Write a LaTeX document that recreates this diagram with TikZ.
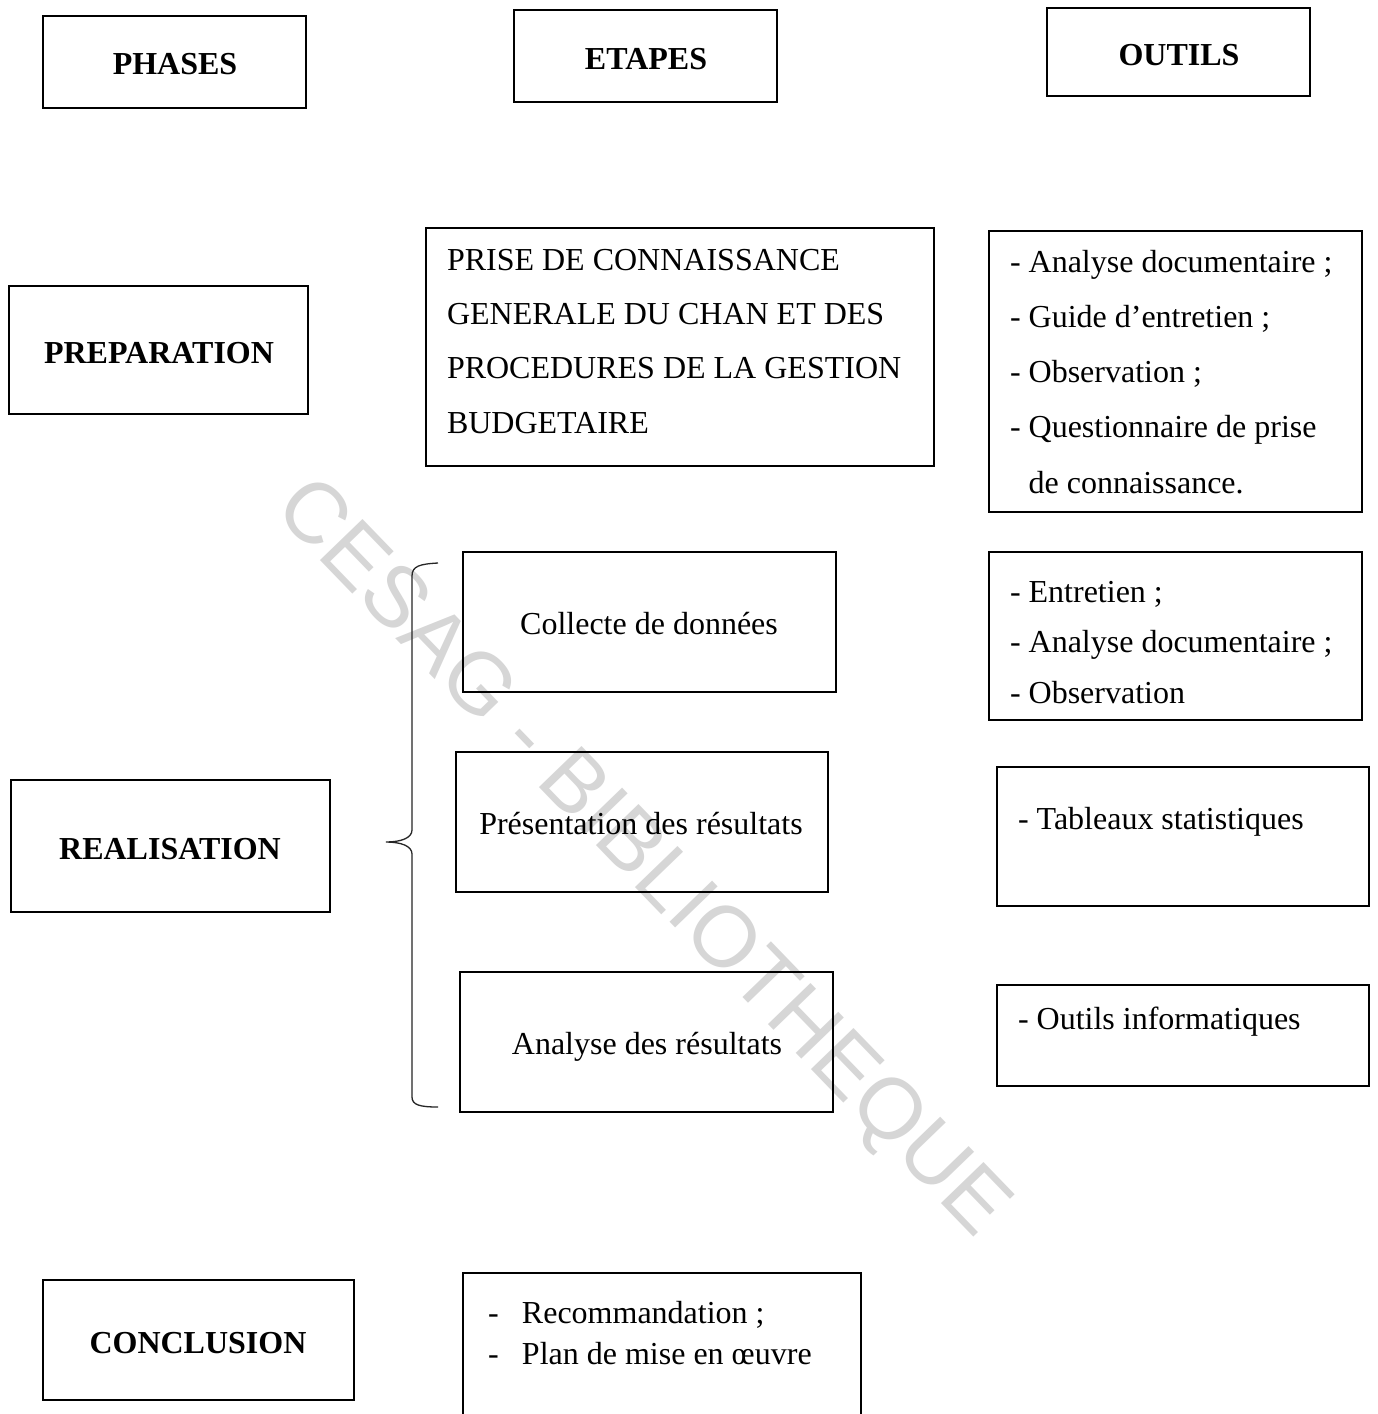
\documentclass[tikz,border=0pt]{standalone}
\usepackage{fontspec}
\setmainfont{Liberation Serif}
\newfontfamily\wmfont{Liberation Sans}
\newcommand\stacklines[2]{{\fontsize{32}{#1}\selectfont\begin{tabular}[t]{@{}l@{}}#2\end{tabular}}}
\begin{document}
\begin{tikzpicture}[x=1pt,y=-1pt,
  frame/.style={draw, line width=2.6pt, inner sep=0pt, outer sep=0pt},
  lbl/.style={inner sep=0pt, outer sep=0pt, font=\fontsize{32}{38}\selectfont},
  head/.style={inner sep=0pt, outer sep=0pt, font=\fontsize{32}{38}\selectfont\bfseries},
  bracepath/.style={line width=1.3pt, draw=black!85}
  ]
\clip (0,0) rectangle (1378,1414);
\fill[white] (0,0) rectangle (1378,1414);

% watermark
\node[rotate=-46, inner sep=0pt, text=black!16, font=\wmfont\fontsize{86}{95}\selectfont] (wm) at (640,860) {CESAG - BIBLIOTHEQUE};

% headers
\node[frame, minimum width=263pt, minimum height=92pt] (phasesbox) at (174.5,62) {};
\node[head, anchor=base] (phases) at (175,74) {PHASES};
\node[frame, minimum width=263pt, minimum height=92pt] (etapesbox) at (645.5,56) {};
\node[head, anchor=base] (etapes) at (646,69) {ETAPES};
\node[frame, minimum width=263pt, minimum height=88pt] (outilsbox) at (1178.5,52) {};
\node[head, anchor=base] (outils) at (1179,65) {OUTILS};

% preparation
\node[frame, minimum width=299pt, minimum height=128pt] (prepbox) at (158.5,350) {};
\node[head, anchor=base] (prep) at (159,363) {PREPARATION};
\node[frame, minimum width=508pt, minimum height=238pt] (prisebox) at (680,347) {};
\node[lbl, anchor=base west] (prise) at (447,270) {\stacklines{54.4}{PRISE DE CONNAISSANCE\\GENERALE DU CHAN ET DES\\PROCEDURES DE LA GESTION\\BUDGETAIRE}};
\node[frame, minimum width=373pt, minimum height=281pt] (out1box) at (1175.5,371.5) {};
\node[lbl, anchor=base west] (out1) at (1010,272) {\stacklines{55.25}{- Analyse documentaire ;\\- Guide d’entretien ;\\- Observation ;\\- Questionnaire de prise\\\hphantom{- }de connaissance.}};

% realisation
\node[frame, minimum width=319pt, minimum height=132pt] (realbox) at (170.5,846) {};
\node[head, anchor=base] (real) at (170,859) {REALISATION};

\node[frame, minimum width=373pt, minimum height=140pt] (collbox) at (649.5,622) {};
\node[lbl, anchor=base] (coll) at (649,634) {Collecte de données};
\node[frame, minimum width=373pt, minimum height=168pt] (out2box) at (1175.5,636) {};
\node[lbl, anchor=base west] (out2) at (1010,602) {\stacklines{50.5}{- Entretien ;\\- Analyse documentaire ;\\- Observation}};

\node[frame, minimum width=372pt, minimum height=140pt] (presbox) at (642,822) {};
\node[lbl, anchor=base] (pres) at (641,834) {Présentation des résultats};
\node[frame, minimum width=372pt, minimum height=139pt] (tabbox) at (1183,836.5) {};
\node[lbl, anchor=base west] (tab) at (1018,829) {- Tableaux statistiques};

\node[frame, minimum width=373pt, minimum height=140pt] (anabox) at (646.5,1042) {};
\node[lbl, anchor=base] (ana) at (647,1054) {Analyse des résultats};
\node[frame, minimum width=372pt, minimum height=101pt] (infbox) at (1183,1035.5) {};
\node[lbl, anchor=base west] (inf) at (1018,1029) {- Outils informatiques};

% brace
\coordinate (bt) at (438,563);
\coordinate (bm) at (386,842);
\coordinate (bb) at (438,1107);
\draw[bracepath] (bt) .. controls (420,564) and (412,566) .. (412,576) -- (412,830)
  .. controls (412,838) and (401,842) .. (bm)
  .. controls (401,842) and (412,846) .. (412,854) -- (412,1097)
  .. controls (412,1105) and (420,1107) .. (bb);

% conclusion
\node[frame, minimum width=311pt, minimum height=120pt] (conclbox) at (198.5,1340) {};
\node[head, anchor=base] (concl) at (198,1353) {CONCLUSION};
\node[frame, minimum width=398pt, minimum height=190pt] (recbox) at (662,1368) {};
\node[lbl, anchor=base west] (rec) at (488,1323) {\stacklines{41}{\makebox[34pt][l]{-}Recommandation ;\\\makebox[34pt][l]{-}Plan de mise en œuvre}};
\end{tikzpicture}
\end{document}
